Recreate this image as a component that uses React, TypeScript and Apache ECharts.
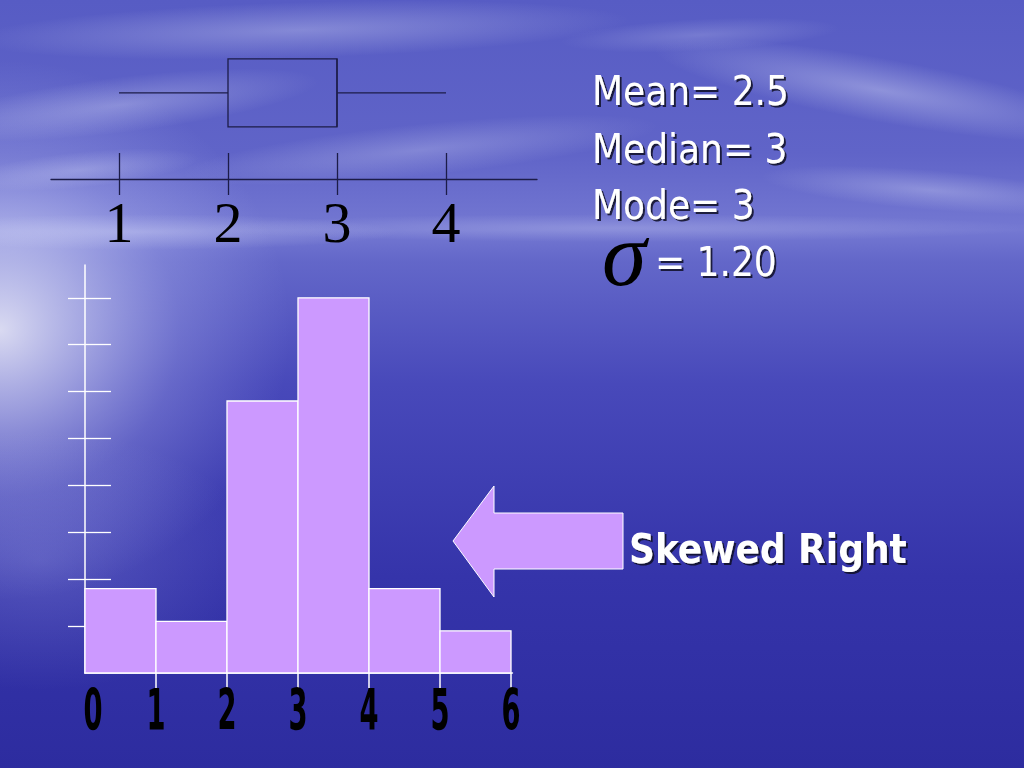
import React, { useEffect, useRef } from "react";
import * as echarts from "echarts";

// Histogram data (class edges 0..6, frequencies)
const binEdges = [0, 1, 2, 3, 4, 5, 6];
const frequencies = [1.8, 1.1, 5.8, 8.0, 1.8, 0.9];
const histTickLabels = ["0", "1", "2", "3", "4", "5", "6"];
const freqTicks = [1, 2, 3, 4, 5, 6, 7, 8];

// Box plot five-number summary: min, Q1, median, Q3, max
const boxSummary = [1, 2, 3, 3, 4];
const boxTickValues = [1, 2, 3, 4];
const boxTickLabels = ["1", "2", "3", "4"];

// Summary statistics text
const statLines = ["Mean= 2.5", "Median= 3", "Mode= 3"];
const sigmaText = "= 1.20";
const skewText = "Skewed Right";

const BAR_FILL = "#CC99FF";
const LINE_DARK = "#1c1c48";
const SANS = "'DejaVu Sans Condensed', 'DejaVu Sans', sans-serif";

export default function App() {
  const ref = useRef<HTMLDivElement>(null);

  useEffect(() => {
    if (!ref.current) return;
    const chart = echarts.init(ref.current, undefined, { renderer: "svg" });

    const histData = frequencies.map((f, i) => [binEdges[i], binEdges[i + 1], f]);
    const labelData = binEdges.map((e, i) => [e, i]);

    const textShadow = {
      textShadowColor: "rgba(10,10,40,0.85)",
      textShadowOffsetX: 2,
      textShadowOffsetY: 2,
      textShadowBlur: 1,
    };

    const bg: any[] = [
      {
        type: "rect",
        z: -100,
        shape: { x: 0, y: 0, width: 1024, height: 768 },
        style: {
          fill: new echarts.graphic.LinearGradient(0, 0, 0, 1, [
            { offset: 0, color: "#575cc4" },
            { offset: 0.2, color: "#6064c8" },
            { offset: 0.3, color: "#7478d2" },
            { offset: 0.34, color: "#6367c9" },
            { offset: 0.5, color: "#4849ba" },
            { offset: 0.75, color: "#3534aa" },
            { offset: 1, color: "#2d2c9f" },
          ]),
        },
      },
      {
        type: "ellipse",
        z: -99,
        shape: { cx: 0, cy: 330, rx: 290, ry: 270 },
        style: {
          fill: new echarts.graphic.RadialGradient(0.5, 0.5, 0.5, [
            { offset: 0, color: "rgba(255,255,255,0.78)" },
            { offset: 0.3, color: "rgba(235,237,255,0.52)" },
            { offset: 0.62, color: "rgba(210,214,255,0.22)" },
            { offset: 1, color: "rgba(200,205,255,0)" },
          ]),
        },
      },
      {
        type: "ellipse",
        z: -99,
        shape: { cx: 40, cy: 560, rx: 220, ry: 130 },
        style: {
          fill: new echarts.graphic.RadialGradient(0.5, 0.5, 0.5, [
            { offset: 0, color: "rgba(200,205,255,0.22)" },
            { offset: 1, color: "rgba(200,205,255,0)" },
          ]),
        },
      },
    ];
    const clouds = [
      [300, 30, 330, 28, 0.03, 0.3],
      [120, 105, 200, 28, 0.12, 0.3],
      [420, 150, 240, 26, 0.1, 0.25],
      [880, 90, 230, 32, -0.18, 0.35],
      [700, 35, 140, 16, 0.05, 0.2],
      [930, 190, 170, 20, -0.08, 0.28],
      [620, 228, 420, 14, 0, 0.22],
      [140, 232, 260, 18, 0, 0.3],
      [80, 170, 120, 18, 0.1, 0.25],
    ];
    clouds.forEach(([cx, cy, rx, ry, rot, a]) => {
      bg.push({
        type: "ellipse",
        z: -98,
        x: cx,
        y: cy,
        rotation: rot,
        shape: { cx: 0, cy: 0, rx, ry },
        style: {
          fill: new echarts.graphic.RadialGradient(0.5, 0.5, 0.5, [
            { offset: 0, color: `rgba(235,238,255,${a})` },
            { offset: 1, color: "rgba(235,238,255,0)" },
          ]),
        },
      });
    });

    const texts: any[] = [];
    const statY = [91, 149, 205];
    statLines.forEach((t, i) => {
      texts.push({
        type: "text",
        z: 100,
        x: 592,
        y: statY[i],
        style: {
          text: t,
          fill: "#ffffff",
          font: `40px ${SANS}`,
          verticalAlign: "middle",
          align: "left",
          ...textShadow,
        },
      });
    });
    texts.push({
      type: "text",
      z: 100,
      x: 602,
      y: 254,
      style: {
        text: "σ",
        fill: "#000000",
        font: `italic 90px 'Liberation Serif', 'DejaVu Serif', serif`,
        lineHeight: 46,
        verticalAlign: "middle",
        align: "left",
      },
    });
    texts.push({
      type: "text",
      z: 100,
      x: 655,
      y: 262,
      style: {
        text: sigmaText,
        fill: "#ffffff",
        font: `40px ${SANS}`,
        verticalAlign: "middle",
        align: "left",
        ...textShadow,
      },
    });
    texts.push({
      type: "text",
      z: 100,
      x: 629,
      y: 549,
      style: {
        text: skewText,
        fill: "#ffffff",
        font: `bold 40px ${SANS}`,
        verticalAlign: "middle",
        align: "left",
        ...textShadow,
      },
    });
    texts.push({
      type: "polygon",
      z: 90,
      shape: {
        points: [
          [453, 541],
          [494, 486],
          [494, 513],
          [623, 513],
          [623, 569],
          [494, 569],
          [494, 597],
        ],
      },
      style: { fill: BAR_FILL, stroke: "#ffffff", lineWidth: 1 },
    });

    const boxMin = 1 - 68 / 109;
    const boxMax = 4 + 91 / 109;

    const option: any = {
      animation: false,
      graphic: { elements: [...bg, ...texts] },
      grid: [
        { left: 85, top: 265, width: 71 * 6.02, height: 408 },
        { left: 51, top: 40, width: 486, height: 139 },
      ],
      xAxis: [
        {
          type: "value",
          gridIndex: 0,
          position: "bottom",
          min: 0,
          max: 6.02,
          splitLine: { show: false },
          axisLine: { show: true, lineStyle: { color: "#ffffff", width: 1.5 } },
          axisTick: {
            show: true,
            customValues: binEdges.slice(1),
            length: 15,
            inside: false,
            lineStyle: { color: "#ffffff", width: 1.5 },
          },
          axisLabel: { show: false },
        },
        {
          type: "value",
          gridIndex: 1,
          position: "bottom",
          min: boxMin,
          max: boxMax,
          splitLine: { show: false },
          axisLine: { show: true, lineStyle: { color: LINE_DARK, width: 1.3 } },
          axisTick: {
            show: true,
            customValues: boxTickValues,
            length: 16,
            inside: false,
            lineStyle: { color: LINE_DARK, width: 1.3 },
          },
          axisLabel: {
            show: true,
            customValues: boxTickValues,
            formatter: (v: number) => boxTickLabels[boxTickValues.indexOf(Math.round(v))] ?? "",
            color: "#000000",
            fontFamily: "'Liberation Serif', 'DejaVu Serif', serif",
            fontSize: 58,
            margin: 14,
          },
        },
        {
          type: "value",
          gridIndex: 1,
          position: "bottom",
          min: boxMin,
          max: boxMax,
          splitLine: { show: false },
          axisLine: { show: false },
          axisTick: {
            show: true,
            customValues: boxTickValues,
            length: 26,
            inside: true,
            lineStyle: { color: LINE_DARK, width: 1.3 },
          },
          axisLabel: { show: false },
        },
      ],
      yAxis: [
        {
          type: "value",
          gridIndex: 0,
          position: "left",
          min: 0,
          max: 8.7,
          splitLine: { show: false },
          axisLine: { show: true, lineStyle: { color: "#ffffff", width: 1.5 } },
          axisTick: {
            show: true,
            customValues: freqTicks,
            length: 17,
            inside: false,
            lineStyle: { color: "#ffffff", width: 1.3 },
          },
          axisLabel: { show: false },
        },
        {
          type: "value",
          gridIndex: 0,
          position: "left",
          min: 0,
          max: 8.7,
          splitLine: { show: false },
          axisLine: { show: false },
          axisTick: {
            show: true,
            customValues: freqTicks,
            length: 26,
            inside: true,
            lineStyle: { color: "#ffffff", width: 1.3 },
          },
          axisLabel: { show: false },
        },
        {
          type: "value",
          gridIndex: 1,
          min: 0,
          max: 1,
          show: false,
        },
      ],
      series: [
        {
          type: "custom",
          name: "Histogram",
          xAxisIndex: 0,
          yAxisIndex: 0,
          data: histData,
          encode: { x: [0, 1], y: 2 },
          renderItem: (params: any, api: any) => {
            const p1 = api.coord([api.value(0), api.value(2)]);
            const p2 = api.coord([api.value(1), 0]);
            return {
              type: "rect",
              shape: { x: p1[0], y: p1[1], width: p2[0] - p1[0], height: p2[1] - p1[1] },
              style: { fill: BAR_FILL, stroke: "#ffffff", lineWidth: 1.3 },
            };
          },
        },
        {
          type: "custom",
          name: "Class labels",
          xAxisIndex: 0,
          yAxisIndex: 0,
          clip: false,
          silent: true,
          data: labelData,
          encode: { x: 0 },
          renderItem: (params: any, api: any) => {
            const p = api.coord([api.value(0), 0]);
            const i = api.value(1);
            return {
              type: "text",
              x: p[0] + (i === 0 ? 8 : 0),
              y: p[1] + 38,
              scaleX: 0.48,
              scaleY: 1,
              style: {
                text: histTickLabels[i],
                fill: "#000000",
                font: "bold 57px 'DejaVu Sans', sans-serif",
                align: "center",
                verticalAlign: "middle",
              },
            };
          },
        },
        {
          type: "custom",
          name: "Box plot",
          xAxisIndex: 1,
          yAxisIndex: 2,
          data: [boxSummary],
          encode: { x: [0, 1, 2, 3, 4] },
          renderItem: (params: any, api: any) => {
            const yc = 0.62;
            const pMin = api.coord([api.value(0), yc]);
            const pQ1 = api.coord([api.value(1), yc]);
            const pMed = api.coord([api.value(2), yc]);
            const pQ3 = api.coord([api.value(3), yc]);
            const pMax = api.coord([api.value(4), yc]);
            const half = 34;
            const ls = { stroke: LINE_DARK, lineWidth: 1.3, fill: "none" };
            return {
              type: "group",
              children: [
                {
                  type: "rect",
                  shape: { x: pQ1[0], y: pQ1[1] - half, width: pQ3[0] - pQ1[0], height: half * 2 },
                  style: { ...ls, fill: "transparent" },
                },
                { type: "line", shape: { x1: pMin[0], y1: pMin[1], x2: pQ1[0], y2: pQ1[1] }, style: ls },
                { type: "line", shape: { x1: pQ3[0], y1: pQ3[1], x2: pMax[0], y2: pMax[1] }, style: ls },
                {
                  type: "line",
                  shape: { x1: pMed[0], y1: pMed[1] - half, x2: pMed[0], y2: pMed[1] + half },
                  style: ls,
                },
              ],
            };
          },
        },
      ],
    };

    chart.setOption(option);
    return () => chart.dispose();
  }, []);

  return (
    <div
      ref={ref}
      style={{ position: "fixed", left: 0, top: 0, width: 1024, height: 768 }}
    />
  );
}
